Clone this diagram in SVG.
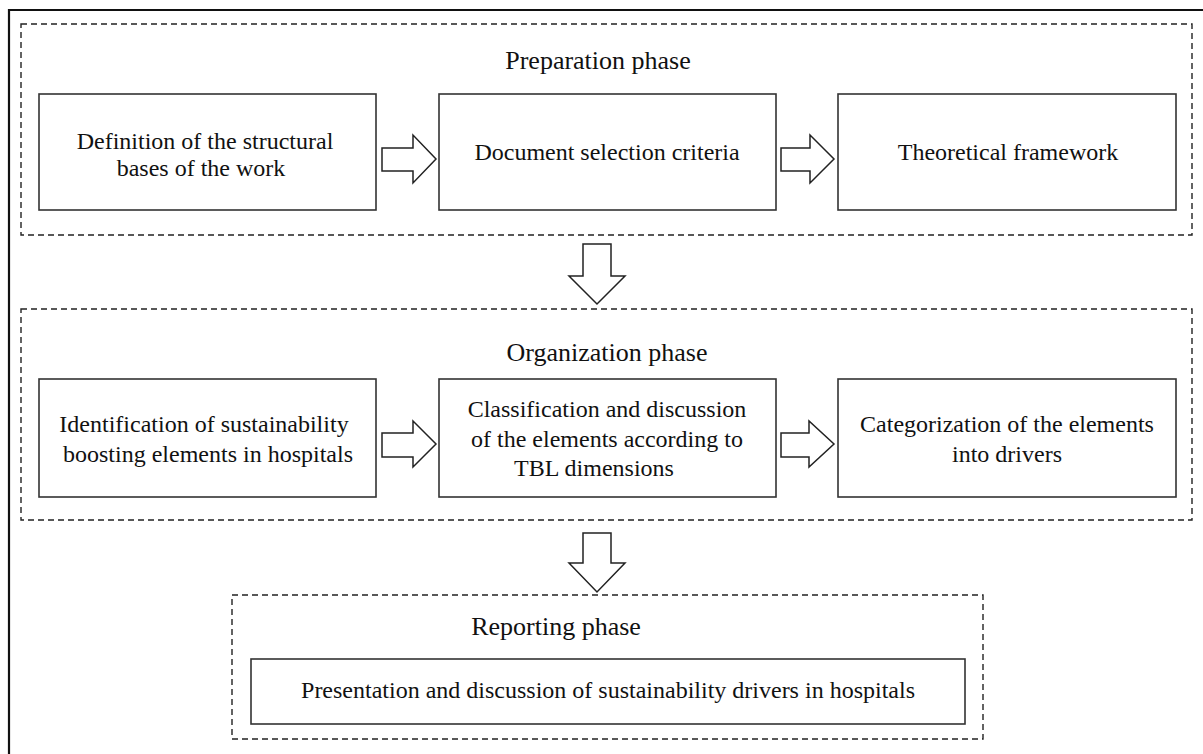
<svg xmlns="http://www.w3.org/2000/svg" width="1203" height="754" viewBox="0 0 1203 754">
<style>
.frame{fill:none;stroke:#111;stroke-width:2.2}
.phase{fill:none;stroke:#222;stroke-width:1.4;stroke-dasharray:6 4}
.box{fill:#fff;stroke:#333;stroke-width:1.6}
.arrow{fill:#fff;stroke:#222;stroke-width:1.5;stroke-linejoin:miter}
.t{font-family:"Liberation Serif","Times New Roman",serif;font-size:24px;fill:#111;text-anchor:middle}
.pt{font-family:"Liberation Serif","Times New Roman",serif;font-size:26px;fill:#111;text-anchor:middle}
</style>
<rect width="1203" height="754" fill="#fff"/>
<path class="frame" d="M9,754 V10 H1203"/>

<g id="preparation-phase">
<rect class="phase" x="21" y="24" width="1171" height="211"/>
<text class="pt" x="598" y="69">Preparation phase</text>
</g>
<g id="organization-phase">
<rect class="phase" x="21" y="309" width="1171" height="211"/>
<text class="pt" x="607" y="361">Organization phase</text>
</g>
<g id="reporting-phase">
<rect class="phase" x="232" y="595" width="751" height="144"/>
<text class="pt" x="556" y="635">Reporting phase</text>
</g>

<g id="n1">
<rect class="box" x="39" y="94" width="337" height="116"/>
<text class="t" x="205" y="149">Definition of the structural</text>
<text class="t" x="201" y="176">bases of the work</text>
</g>
<g id="n2">
<rect class="box" x="439" y="94" width="337" height="116"/>
<text class="t" x="607" y="160">Document selection criteria</text>
</g>
<g id="n3">
<rect class="box" x="838" y="94" width="338" height="116"/>
<text class="t" x="1008" y="160">Theoretical framework</text>
</g>

<g id="n4">
<rect class="box" x="39" y="379" width="337" height="118"/>
<text class="t" x="204" y="432">Identification of sustainability</text>
<text class="t" x="208" y="462">boosting elements in hospitals</text>
</g>
<g id="n5">
<rect class="box" x="439" y="379" width="337" height="118"/>
<text class="t" x="607" y="417">Classification and discussion</text>
<text class="t" x="607" y="447">of the elements according to</text>
<text class="t" x="594" y="476">TBL dimensions</text>
</g>
<g id="n6">
<rect class="box" x="838" y="379" width="338" height="118"/>
<text class="t" x="1007" y="432">Categorization of the elements</text>
<text class="t" x="1007" y="462">into drivers</text>
</g>

<g id="n7">
<rect class="box" x="251" y="659" width="714" height="65"/>
<text class="t" x="608" y="698">Presentation and discussion of sustainability drivers in hospitals</text>
</g>

<g id="connectors">
<polygon class="arrow" points="382,148 413,148 413,135 436,159 413,183 413,171 382,171"/>
<polygon class="arrow" points="781,148 810,148 810,135 834,159 810,183 810,171 781,171"/>
<polygon class="arrow" points="382,433 413,433 413,421 436,444 413,467 413,457 382,457"/>
<polygon class="arrow" points="781,433 809,433 809,421 834,444 809,467 809,457 781,457"/>
<polygon class="arrow" points="583,244 611,244 611,276 625,276 597,304 569,276 583,276"/>
<polygon class="arrow" points="583,533 611,533 611,563 625,563 597,592 569,563 583,563"/>
</g>
</svg>
